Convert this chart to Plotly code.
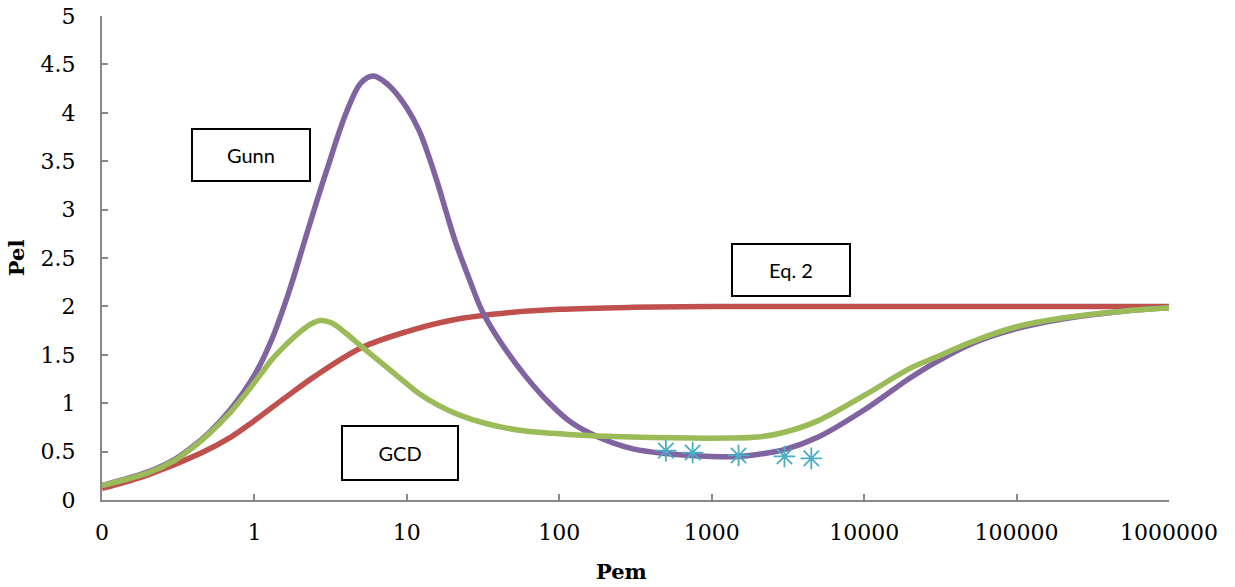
import plotly.graph_objects as go

# Gunn correlation
gunn_pem = [0.1, 0.2, 0.3, 0.4, 0.5, 0.7, 1, 1.3, 1.7, 2, 2.5, 3, 4, 5, 6, 7, 8, 10,
            12, 14, 16, 18, 21, 26, 31, 40, 60, 85, 120, 180, 300, 500, 1000, 1500,
            2000, 3000, 5000, 10000, 20000, 30000, 50000, 100000, 200000, 500000, 1000000]
gunn_pel = [0.15, 0.29, 0.42, 0.56, 0.69, 0.94, 1.29, 1.66, 2.17, 2.53, 3.03, 3.42, 4.00,
            4.31, 4.38, 4.33, 4.25, 4.05, 3.82, 3.54, 3.26, 2.99, 2.65, 2.26, 1.96, 1.66,
            1.28, 1.01, 0.80, 0.65, 0.53, 0.48, 0.45, 0.45, 0.47, 0.52, 0.65, 0.93, 1.26,
            1.43, 1.61, 1.77, 1.87, 1.95, 1.985]

# GCD model
gcd_pem = [0.1, 0.2, 0.3, 0.4, 0.5, 0.7, 0.9, 1.1, 1.3, 1.6, 2, 2.3, 2.7, 3.2, 4, 5, 7, 9,
           12, 16, 22, 33, 55, 110, 300, 1300, 2000, 3000, 5000, 10000, 20000, 30000,
           50000, 100000, 200000, 500000, 1000000]
gcd_pel = [0.15, 0.28, 0.41, 0.55, 0.68, 0.91, 1.12, 1.30, 1.45, 1.60, 1.74, 1.81, 1.855,
           1.83, 1.72, 1.59, 1.40, 1.26, 1.10, 0.98, 0.88, 0.79, 0.72, 0.68, 0.65, 0.64,
           0.65, 0.70, 0.82, 1.08, 1.36, 1.48, 1.63, 1.79, 1.88, 1.95, 1.985]

# Eq. 2
eq2_pem = [0.1, 0.2, 0.44, 0.7, 1, 1.6, 2.5, 5, 10, 20, 50, 100, 300, 1000, 1000000]
eq2_pel = [0.12, 0.26, 0.48, 0.65, 0.82, 1.06, 1.28, 1.57, 1.74, 1.86, 1.94, 1.97,
           1.99, 2.0, 2.0]

# Measured points
meas_pem = [500, 750, 1500, 3000, 4500]
meas_pel = [0.51, 0.49, 0.46, 0.45, 0.43]

x_ticks = [0.1, 1, 10, 100, 1000, 10000, 100000, 1000000]
x_tick_text = ["0", "1", "10", "100", "1000", "10000", "100000", "1000000"]
y_ticks = [0, 0.5, 1, 1.5, 2, 2.5, 3, 3.5, 4, 4.5, 5]
y_tick_text = ["0", "0.5", "1", "1.5", "2", "2.5", "3", "3.5", "4", "4.5", "5"]

fig = go.Figure()
line_kw = dict(mode="lines", line_shape="spline", showlegend=False)
fig.add_trace(go.Scatter(x=eq2_pem, y=eq2_pel, name="Eq. 2",
                         line=dict(color="#C0504D", width=5.5, smoothing=1), **line_kw))
fig.add_trace(go.Scatter(x=gunn_pem, y=gunn_pel, name="Gunn",
                         line=dict(color="#8064A2", width=5.5, smoothing=1), **line_kw))
fig.add_trace(go.Scatter(x=gcd_pem, y=gcd_pel, name="GCD",
                         line=dict(color="#9BBB59", width=5.5, smoothing=1), **line_kw))
fig.add_trace(go.Scatter(x=meas_pem, y=meas_pel, mode="markers", showlegend=False,
                         marker=dict(symbol="asterisk-open", size=18, color="#4BACC6",
                                     line=dict(color="#4BACC6", width=1.8))))

axis_font = dict(family="DejaVu Serif", size=22, color="#000000")
common_axis = dict(ticks="inside", ticklen=6, tickwidth=2, tickcolor="#888888",
                   showline=True, linecolor="#888888", linewidth=2, showgrid=False,
                   zeroline=False, tickfont=axis_font, automargin=False)
fig.update_xaxes(type="log", range=[-1, 6], tickvals=x_ticks, ticktext=x_tick_text,
                 ticklabelstandoff=12, **common_axis)
fig.update_yaxes(range=[0, 5], tickvals=y_ticks, ticktext=y_tick_text,
                 ticklabelstandoff=20, **common_axis)

# Axis titles
title_font = dict(family="DejaVu Serif", size=21, color="#000000")
fig.add_annotation(xref="paper", yref="paper", x=0.487, y=-0.147, text="<b>Pem</b>",
                   showarrow=False, xanchor="center", yanchor="middle", font=title_font)
fig.add_annotation(xref="paper", yref="paper", x=-0.08, y=0.501, text="<b>Pel</b>",
                   showarrow=False, xanchor="center", yanchor="middle", textangle=-90,
                   font=title_font)

# Curve labels in boxes
box_kw = dict(xref="paper", yref="paper", showarrow=False, bordercolor="#000000",
              borderwidth=2, borderpad=0, bgcolor="#FFFFFF", align="center",
              valign="middle", xanchor="center", yanchor="middle",
              font=dict(family="Lato", size=20, color="#000000"))
fig.add_annotation(x=0.1396, y=0.7118, text="Gunn", width=116, height=50, **box_kw)
fig.add_annotation(x=0.6457, y=0.4762, text="Eq. 2", width=116, height=50, **box_kw)
fig.add_annotation(x=0.2793, y=0.0981, text="GCD", width=114, height=52, **box_kw)

fig.update_layout(width=1235, height=587, plot_bgcolor="#FFFFFF", paper_bgcolor="#FFFFFF",
                  margin=dict(l=102, r=66, t=16, b=87))

fig.write_html("out.html")
